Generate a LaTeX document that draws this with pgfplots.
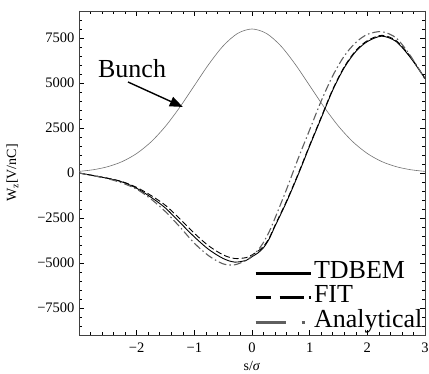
\documentclass[border=0pt]{standalone}
\usepackage{fontspec}
\setmainfont{Liberation Serif}
\usepackage{pgfplots}
\pgfplotsset{compat=1.18}
\usetikzlibrary{arrows.meta,calc}
\definecolor{bunchgray}{RGB}{115,115,115}
\definecolor{anagray}{RGB}{95,95,95}
\begin{document}
\begin{tikzpicture}
\begin{axis}[
  scale only axis, width=346pt, height=324pt,
  xmin=-3, xmax=3, ymin=-9000, ymax=9000,
  xtick={-3,-2,-1,0,1,2,3}, xticklabels={,−2,−1,0,1,2,3},
  ytick={-7500,-5000,-2500,0,2500,5000,7500},
  yticklabels={−7500,−5000,−2500,0,2500,5000,7500},
  scaled y ticks=false,
  minor xtick={-3,-2.8,...,3},
  minor ytick={-9000,-8500,...,9000},
  tick align=inside, major tick length=5pt, minor tick length=3pt,
  tick style={black, line width=0.5pt},
  axis line style={black!75, line width=0.6pt},
  ticklabel style={font=\fontsize{14.5}{14.5}\selectfont},
  xticklabel style={yshift=-4pt},
  yticklabel style={xshift=-1pt},
  xlabel={s/\textit{σ}}, ylabel={W\textsubscript{z}[V/nC]},
  label style={font=\fontsize{14}{14}\selectfont},
  xlabel style={yshift=-2pt},
  ylabel style={at={(axis description cs:-0.165,0.5)}, anchor=south},
  legend style={draw=none, fill=none, at={(1,0)}, anchor=south east,
    font=\fontsize{26}{26}\selectfont, inner sep=0.5pt, row sep=0pt,
    column sep=0pt,
    nodes={text height=15.5pt, text depth=5pt}},
  legend cell align=left,
]
% Bunch
\addplot[bunchgray, line width=0.6pt, smooth, forget plot] coordinates {
(-3,89) (-2.75,182) (-2.5,352) (-2.25,636) (-2,1083) (-1.75,1730) (-1.5,2597) (-1.25,3663) (-1,4852) (-0.75,6039) (-0.5,7060) (-0.25,7754) (0,8000)
(0.25,7754) (0.5,7060) (0.75,6039) (1,4852) (1.25,3663) (1.5,2597) (1.75,1730) (2,1083) (2.25,636) (2.5,352) (2.75,182) (3,89)};
% TDBEM
\addplot[black, line width=0.9pt, smooth, forget plot] coordinates {
(-3,0) (-2.75,-150) (-2.5,-300) (-2.25,-500) (-2,-850) (-1.75,-1350) (-1.5,-1950) (-1.25,-2750) (-1,-3550) (-0.75,-4250) (-0.5,-4750) (-0.3,-4950) (-0.1,-4850) (0,-4650) (0.1,-4450) (0.2,-4150) (0.3,-3650) (0.4,-2950) (0.6,-1600) (0.8,-100) (1.0,1500) (1.2,3050) (1.4,4600) (1.6,5850) (1.8,6750) (2.0,7300) (2.25,7600) (2.5,7300) (2.75,6400) (3.0,5250)};
% FIT
\addplot[black, line width=0.9pt, smooth, dash pattern=on 6pt off 3pt, forget plot] coordinates {
(-3,0) (-2.75,-140) (-2.5,-290) (-2.25,-480) (-2,-800) (-1.75,-1250) (-1.5,-1800) (-1.25,-2550) (-1,-3350) (-0.75,-4050) (-0.5,-4550) (-0.3,-4750) (-0.1,-4700) (0,-4550) (0.1,-4350) (0.2,-4080) (0.3,-3600) (0.4,-2900) (0.6,-1550) (0.8,-50) (1.0,1550) (1.2,3100) (1.4,4650) (1.6,5900) (1.8,6800) (2.0,7350) (2.25,7650) (2.5,7350) (2.75,6450) (3.0,5250)};
% Analytical
\addplot[anagray, line width=1.1pt, smooth, dash pattern=on 8pt off 3pt on 1.5pt off 3pt, forget plot] coordinates {
(-3,0) (-2.75,-150) (-2.5,-320) (-2.25,-560) (-2,-900) (-1.75,-1450) (-1.5,-2150) (-1.25,-3000) (-1,-3900) (-0.75,-4600) (-0.5,-5050) (-0.3,-5100) (-0.1,-4850) (0,-4600) (0.1,-4300) (0.2,-3850) (0.3,-3250) (0.4,-2500) (0.6,-900) (0.8,800) (1.0,2400) (1.2,4000) (1.4,5400) (1.6,6500) (1.8,7250) (2.0,7700) (2.25,7850) (2.5,7500) (2.75,6500) (3.0,5200)};
\addlegendimage{legend image code/.code={\draw[black, line width=3pt] (0pt,0pt) -- (55pt,0pt);}}
\addlegendentry{TDBEM}
\addlegendimage{legend image code/.code={\draw[black, line width=3pt, dash pattern=on 15pt off 9pt on 24pt off 5pt on 2pt off 10pt] (0pt,0pt) -- (55pt,0pt);}}
\addlegendentry{FIT}
\addlegendimage{legend image code/.code={\draw[anagray, line width=3pt, dash pattern=on 30pt off 16pt on 3pt off 10pt] (0pt,0pt) -- (55pt,0pt);}}
\addlegendentry{Analytical}
\node[font=\fontsize{26}{26}\selectfont] at (axis cs:-2.08,5780) {Bunch};
\draw[-{Triangle[length=13pt,width=10pt]}, line width=1.4pt] (axis cs:-2.15,5055) -- (axis cs:-1.2,3670);
\coordinate (bl) at (rel axis cs:0,0);
\coordinate (tr) at (rel axis cs:1,1);
\end{axis}
\pgfresetboundingbox
\path ($(bl)+(-79pt,-39pt)$) rectangle ($(tr)+(4pt,11pt)$);
\end{tikzpicture}
\end{document}
